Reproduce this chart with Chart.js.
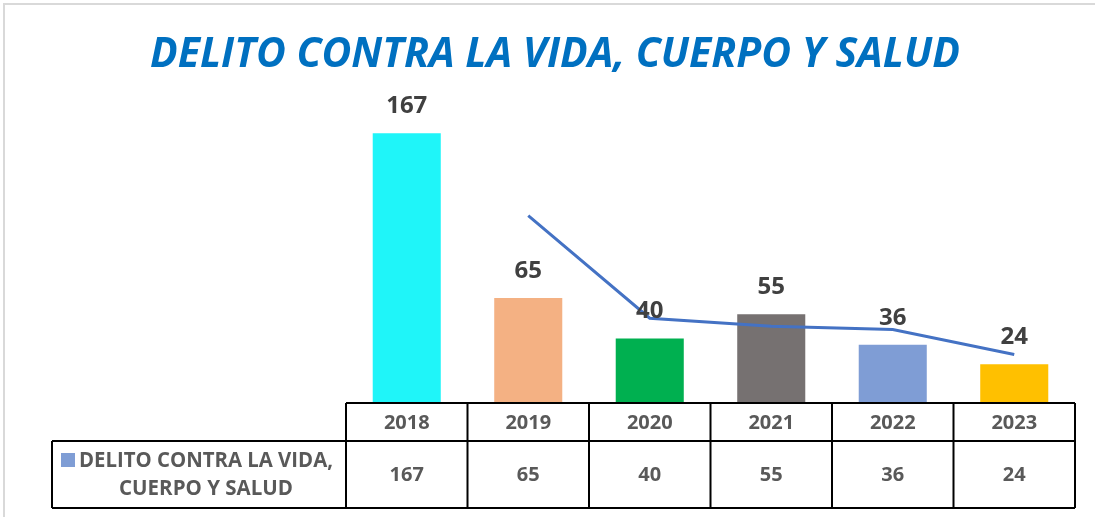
<!DOCTYPE html>
<html>
<head>
<meta charset="utf-8">
<script src="https://cdn.jsdelivr.net/npm/chart.js@4.4.0/dist/chart.umd.min.js"></script>
<style>
  html, body { margin: 0; padding: 0; background: #fff; }
  #wrap { width: 1095px; height: 517px; }
</style>
</head>
<body>
<div id="wrap"><canvas id="chart" width="1095" height="517"></canvas></div>
<script>
// Chart data
const years = ['2018', '2019', '2020', '2021', '2022', '2023'];
const casos = [167, 65, 40, 55, 36, 24];
const tendencia = [null, 116, 52.5, 47.5, 45.5, 30];
const barColors = ['#1ff5f9', '#f4b183', '#00b050', '#767171', '#7f9dd5', '#ffc000'];
const chartTitle = 'DELITO CONTRA LA VIDA, CUERPO Y SALUD';
const seriesName = ['DELITO CONTRA LA VIDA,', 'CUERPO Y SALUD'];

const FONT = '"Open Sans", "Liberation Sans", sans-serif';

// Title, value labels, data table and frame drawn on top of the chart
const excelExtras = {
  id: 'excelExtras',
  afterDraw(chart) {
    const ctx = chart.ctx;
    const area = chart.chartArea;
    const x = chart.scales.x;
    const colW = (area.right - area.left) / years.length;
    const headTop = area.bottom, headBot = 441, rowBot = 508, legendLeft = 52;

    ctx.save();

    // outer frame
    ctx.strokeStyle = '#d9d9d9';
    ctx.lineWidth = 2;
    ctx.strokeRect(4, 4, 1200, 600);

    // title
    ctx.fillStyle = '#0070c0';
    ctx.font = 'italic bold 41px ' + FONT;
    ctx.textAlign = 'center';
    ctx.textBaseline = 'middle';
    ctx.fillText(chartTitle, 555, 55, 810);

    // value labels above bars
    const bars = chart.getDatasetMeta(0).data;
    ctx.fillStyle = '#404040';
    ctx.font = 'bold 24px ' + FONT;
    bars.forEach((b, i) => {
      ctx.fillText(String(casos[i]), b.x, b.y - 27);
    });

    // data table
    ctx.strokeStyle = '#000';
    ctx.lineWidth = 2;
    ctx.beginPath();
    ctx.moveTo(area.left, headTop); ctx.lineTo(area.right, headTop);
    ctx.moveTo(legendLeft, headBot); ctx.lineTo(area.right, headBot);
    ctx.moveTo(legendLeft, rowBot); ctx.lineTo(area.right, rowBot);
    ctx.moveTo(legendLeft, headBot); ctx.lineTo(legendLeft, rowBot);
    for (let i = 0; i <= years.length; i++) {
      const cx = area.left + i * colW;
      ctx.moveTo(cx, headTop); ctx.lineTo(cx, rowBot);
    }
    ctx.stroke();

    ctx.fillStyle = '#595959';
    ctx.font = 'bold 20px ' + FONT;
    years.forEach((y, i) => {
      const cx = x.getPixelForValue(i);
      ctx.fillText(y, cx, (headTop + headBot) / 2 + 1);
      ctx.fillText(String(casos[i]), cx, (headBot + rowBot) / 2 + 1);
    });

    // legend key and series name
    ctx.fillStyle = '#7f9dd5';
    ctx.fillRect(61, 453, 14, 14);
    ctx.fillStyle = '#595959';
    ctx.font = 'bold 20.5px ' + FONT;
    ctx.fillText(seriesName[0], 206, 461, 254);
    ctx.fillText(seriesName[1], 206, 489, 254);

    ctx.restore();
  }
};

new Chart(document.getElementById('chart'), {
  type: 'bar',
  data: {
    labels: years,
    datasets: [
      {
        type: 'bar',
        label: seriesName.join(' '),
        data: casos,
        backgroundColor: barColors,
        borderWidth: 0,
        barPercentage: 0.56,
        categoryPercentage: 1,
        order: 2
      },
      {
        type: 'line',
        label: 'Tendencia',
        data: tendencia,
        borderColor: '#4472c4',
        borderWidth: 3,
        pointRadius: 0,
        tension: 0,
        fill: false,
        order: 1
      }
    ]
  },
  options: {
    responsive: false,
    animation: false,
    layout: { padding: { left: 346, right: 20, top: 80, bottom: 114 } },
    plugins: {
      legend: { display: false },
      title: { display: false },
      tooltip: { enabled: false }
    },
    scales: {
      x: { display: false },
      y: { display: false, min: 0, max: 200 }
    }
  },
  plugins: [excelExtras]
});
</script>
</body>
</html>
